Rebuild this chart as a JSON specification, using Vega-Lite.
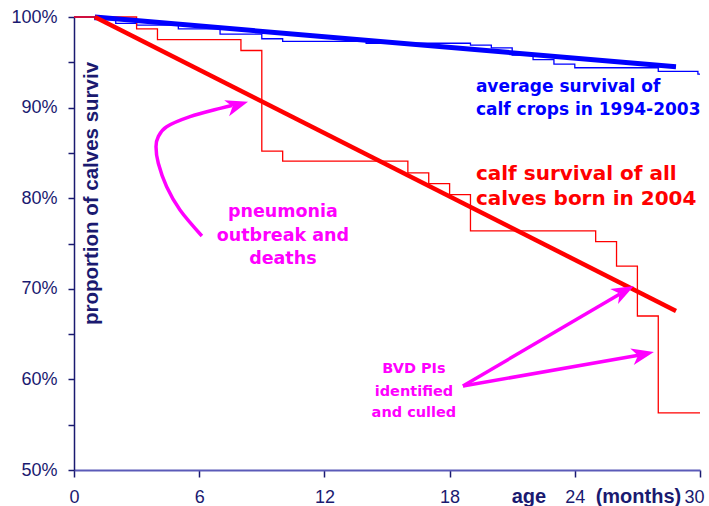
{
  "$schema": "https://vega.github.io/schema/vega-lite/v6.json",
  "width": 626,
  "height": 453,
  "autosize": {"type": "none"},
  "padding": {"left": 74, "top": 17, "right": 9, "bottom": 36},
  "background": "white",
  "config": {"view": {"stroke": null}, "font": "Liberation Sans"},
  "datasets": {
    "redstep": [
      {"x": 0, "y": 100}, {"x": 3, "y": 98.7}, {"x": 4, "y": 97.5}, {"x": 8, "y": 96.3},
      {"x": 9, "y": 85.2}, {"x": 10, "y": 84.1}, {"x": 16, "y": 82.8}, {"x": 17, "y": 81.6},
      {"x": 18, "y": 80.4}, {"x": 19, "y": 76.4}, {"x": 25, "y": 75.2}, {"x": 26, "y": 72.5},
      {"x": 27, "y": 67.0}, {"x": 28, "y": 56.3}, {"x": 30, "y": 56.3}
    ],
    "bluestep": [
      {"x": 0, "y": 100}, {"x": 1, "y": 99.7}, {"x": 2, "y": 99.3}, {"x": 3, "y": 99.1},
      {"x": 5, "y": 98.7}, {"x": 7, "y": 98.1}, {"x": 9, "y": 97.6}, {"x": 10, "y": 97.3},
      {"x": 14, "y": 97.1}, {"x": 19, "y": 96.9}, {"x": 20, "y": 96.6}, {"x": 21, "y": 95.8},
      {"x": 22, "y": 95.3}, {"x": 23, "y": 94.8}, {"x": 24, "y": 94.4}, {"x": 28, "y": 94.0},
      {"x": 29.9, "y": 93.7}, {"x": 30, "y": 93.7}
    ],
    "trend": [
      {"s": "blue", "x": 1, "y": 100}, {"s": "blue", "x": 28.85, "y": 94.5},
      {"s": "red", "x": 1, "y": 100}, {"s": "red", "x": 28.85, "y": 67.55}
    ],
    "arrows": [
      {"a": "c", "i": 0, "x": 6.13, "y": 75.83},
      {"a": "c", "i": 1, "x": 5.08, "y": 78.7},
      {"a": "c", "i": 2, "x": 4.44, "y": 81.27},
      {"a": "c", "i": 3, "x": 4.04, "y": 83.85},
      {"a": "c", "i": 4, "x": 3.93, "y": 85.68},
      {"a": "c", "i": 5, "x": 4.04, "y": 86.79},
      {"a": "c", "i": 6, "x": 4.44, "y": 87.89},
      {"a": "c", "i": 7, "x": 5.56, "y": 89.0},
      {"a": "c", "i": 8, "x": 7.0, "y": 89.92},
      {"a": "c", "i": 9, "x": 7.57, "y": 90.23},
      {"a": "s1", "i": 0, "x": 18.64, "y": 59.27},
      {"a": "s1", "i": 1, "x": 26.16, "y": 69.43},
      {"a": "s2", "i": 0, "x": 18.64, "y": 59.27},
      {"a": "s2", "i": 1, "x": 27.12, "y": 62.69}
    ],
    "heads": [
      {"x": 8.34, "y": 90.65, "ang": -17},
      {"x": 26.83, "y": 70.31, "ang": -28},
      {"x": 27.79, "y": 63.02, "ang": -12}
    ],
    "notes": [
      {"g": "blue", "t": "average survival of", "x": 19.26, "y": 91.72},
      {"g": "blue", "t": "calf crops in 1994-2003", "x": 19.26, "y": 89.18},
      {"g": "red", "t": "calf survival of all", "x": 19.26, "y": 82.01},
      {"g": "red", "t": "calves born in 2004", "x": 19.26, "y": 79.25},
      {"g": "pneu", "t": "pneumonia", "x": 10.01, "y": 77.92},
      {"g": "pneu", "t": "outbreak and", "x": 10.01, "y": 75.28},
      {"g": "pneu", "t": "deaths", "x": 10.01, "y": 72.74},
      {"g": "bvd", "t": "BVD PIs", "x": 16.29, "y": 60.71},
      {"g": "bvd", "t": "identified", "x": 16.29, "y": 58.17},
      {"g": "bvd", "t": "and culled", "x": 16.29, "y": 55.85},
      {"g": "axis", "t": "age", "x": 21.8, "y": 46.36},
      {"g": "axis", "t": "(months)", "x": 27.05, "y": 46.36},
      {"g": "ytitle", "t": "proportion of calves surviv", "x": 1.13, "y": 80.52}
    ]
  },
  "encoding": {
    "x": {
      "field": "x", "type": "quantitative",
      "scale": {"domain": [0, 30], "nice": false, "zero": false},
      "axis": {
        "title": null, "values": [0, 6, 12, 18, 24, 30], "grid": false,
        "domainColor": "#5a5ab8", "domainWidth": 2,
        "tickColor": "#1a1a70", "tickWidth": 1.5, "tickSize": 7,
        "labelFont": "Liberation Sans", "labelFontSize": 18, "labelColor": "#1a1a70",
        "labelPadding": 11, "labelFlush": false, "labelOverlap": false,
        "labelOffset": {"condition": {"test": "datum.value === 30", "value": -6}, "value": 0}
      }
    },
    "y": {
      "field": "y", "type": "quantitative",
      "scale": {"domain": [50, 100], "nice": false, "zero": false},
      "axis": {
        "title": null, "values": [50, 55, 60, 65, 70, 75, 80, 85, 90, 95, 100], "grid": false,
        "labelExpr": "datum.value % 10 === 0 ? datum.value + '%' : ''",
        "domainColor": "#1a1a70", "domainWidth": 1.5,
        "tickColor": "#1a1a70", "tickWidth": 1.5, "tickSize": 6,
        "labelFont": "Liberation Sans", "labelFontSize": 18, "labelColor": "#1a1a70",
        "labelPadding": 11, "labelOverlap": false
      }
    }
  },
  "layer": [
    {
      "data": {"name": "bluestep"},
      "mark": {"type": "line", "interpolate": "step-after", "color": "#0000ff", "strokeWidth": 1.3}
    },
    {
      "data": {"name": "redstep"},
      "mark": {"type": "line", "interpolate": "step-after", "color": "#ff0000", "strokeWidth": 1.3}
    },
    {
      "data": {"name": "trend"},
      "transform": [{"filter": "datum.s === 'blue'"}],
      "mark": {"type": "line", "color": "#0000ff", "strokeWidth": 5}
    },
    {
      "data": {"name": "trend"},
      "transform": [{"filter": "datum.s === 'red'"}],
      "mark": {"type": "line", "color": "#ff0000", "strokeWidth": 4.5}
    },
    {
      "data": {"name": "arrows"},
      "mark": {"type": "line", "interpolate": "cardinal", "color": "#ff00ff", "strokeWidth": 3.5},
      "encoding": {"detail": {"field": "a"}, "order": {"field": "i", "type": "quantitative"}}
    },
    {
      "data": {"name": "heads"},
      "mark": {"type": "point", "filled": true, "color": "#ff00ff", "opacity": 1, "size": 500,
        "shape": "M0,0 L-2,-0.75 L-1.45,0 L-2,0.75 Z"},
      "encoding": {"angle": {"field": "ang", "type": "quantitative", "scale": null}}
    },
    {
      "data": {"name": "notes"},
      "transform": [{"filter": "datum.g === 'blue'"}],
      "mark": {"type": "text", "align": "left", "baseline": "alphabetic", "font": "DejaVu Sans", "fontWeight": "bold", "fontSize": 17, "color": "#0000ff"},
      "encoding": {"text": {"field": "t"}}
    },
    {
      "data": {"name": "notes"},
      "transform": [{"filter": "datum.g === 'red'"}],
      "mark": {"type": "text", "align": "left", "baseline": "alphabetic", "font": "DejaVu Sans", "fontWeight": "bold", "fontSize": 20, "color": "#ff0000"},
      "encoding": {"text": {"field": "t"}}
    },
    {
      "data": {"name": "notes"},
      "transform": [{"filter": "datum.g === 'pneu'"}],
      "mark": {"type": "text", "align": "center", "baseline": "alphabetic", "font": "DejaVu Sans", "fontWeight": "bold", "fontSize": 17.5, "color": "#ff00ff"},
      "encoding": {"text": {"field": "t"}}
    },
    {
      "data": {"name": "notes"},
      "transform": [{"filter": "datum.g === 'bvd'"}],
      "mark": {"type": "text", "align": "center", "baseline": "alphabetic", "font": "DejaVu Sans", "fontWeight": "bold", "fontSize": 14.5, "color": "#ff00ff"},
      "encoding": {"text": {"field": "t"}}
    },
    {
      "data": {"name": "notes"},
      "transform": [{"filter": "datum.g === 'axis'"}],
      "mark": {"type": "text", "align": "center", "baseline": "alphabetic", "font": "Liberation Sans", "fontWeight": "bold", "fontSize": 20, "color": "#1a1a70"},
      "encoding": {"text": {"field": "t"}}
    },
    {
      "data": {"name": "notes"},
      "transform": [{"filter": "datum.g === 'ytitle'"}],
      "mark": {"type": "text", "align": "center", "baseline": "alphabetic", "angle": 270, "font": "Liberation Sans", "fontWeight": "bold", "fontSize": 20.5, "color": "#1a1a70"},
      "encoding": {"text": {"field": "t"}}
    }
  ]
}
